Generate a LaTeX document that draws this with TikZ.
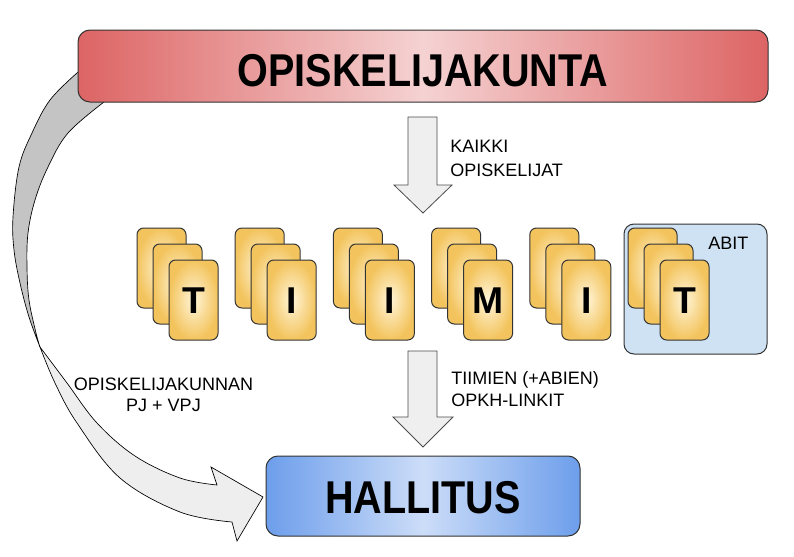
\documentclass[tikz,border=0pt]{standalone}
\usepackage{fontspec}
\setmainfont{Liberation Sans}
\usepackage{graphicx}
\definecolor{redEdge}{HTML}{DD6464}
\definecolor{redMid}{HTML}{F5D2D2}
\definecolor{blueEdge}{HTML}{6D9EEB}
\definecolor{blueMid}{HTML}{CCDDF8}
\definecolor{cardOut}{HTML}{F3C45E}
\definecolor{cardIn}{HTML}{FFF5D8}
\definecolor{abitFill}{HTML}{CFE2F3}
\definecolor{arrowFill}{HTML}{EFEFEF}
\definecolor{backBand}{HTML}{C4C4C4}
\definecolor{frontBand}{HTML}{EEEEEE}
\definecolor{lineDark}{HTML}{333333}
\begin{document}
\begin{tikzpicture}[x=0.75pt,y=-0.75pt,
  bigbox/.style={draw=lineDark, line width=0.75pt, rounded corners=9pt, inner sep=0pt},
  bigtext/.style={font=\fontsize{34.5}{40}\selectfont\bfseries},
  card/.style={draw=lineDark, line width=0.75pt, rounded corners=5pt,
    minimum width=36.75pt, minimum height=60pt, inner sep=0pt,
    inner color=cardIn, outer color=cardOut,
    font=\fontsize{28}{30}\selectfont\bfseries, text height=20pt, text depth=0pt},
  blockarrow/.style={draw=black!70, line width=0.6pt, fill=arrowFill},
  lbl/.style={font=\fontsize{13.5}{16}\selectfont, inner sep=0pt},
  band/.style={draw=black, line width=0.5pt}
]
\useasboundingbox (0,0) rectangle (794,557);
\fill[white] (0,0) rectangle (794,557);

% back part of the curved arrow (behind the title box)
\path[band, fill=backBand] (92,58)
  -- plot[smooth, tension=0.6] coordinates {(77,73) (50,100) (32,133) (19,167) (13,217) (14,250) (20,283) (29,317) (40,347)}
  -- plot[smooth, tension=0.6] coordinates {(40,347) (36,333) (29,300) (27,267) (28,233) (35,200) (48,167) (68,133) (104,102)}
  -- (122,87) -- cycle;

% title box
\node[bigbox, bigtext, minimum width=517.5pt, minimum height=54pt,
  left color=redEdge, right color=redEdge, middle color=redMid,
  text height=31pt, text depth=0pt] (title) at (423,66)
  {\scalebox{0.86}[1]{OPISKELIJAKUNTA}};

% first block arrow
\path[blockarrow] (408,117) -- (437,117) -- (437,185) -- (452,185) -- (423,213)
  -- (394,185) -- (408,185) -- cycle;
\node[lbl, anchor=base west] (kaikki) at (450,152) {KAIKKI};
\node[lbl, anchor=base west] (opisk) at (450,176) {OPISKELIJAT};

% ABIT box
\node[draw=lineDark, line width=0.75pt, fill=abitFill, rounded corners=7.5pt,
  minimum width=107.25pt, minimum height=97.5pt, inner sep=0pt] (abit) at (695.5,289) {};
\node[lbl, anchor=base west] (abitlbl) at (708,249) {ABIT};

% card stacks
\foreach \i/\L in {0/T,1/I,2/I,3/M,4/I,5/T}{
  \node[card] (c\i a) at ({137+98.2*\i+24.5},268) {};
  \node[card] (c\i b) at ({137+98.2*\i+40.5},284) {};
  \node[card] (c\i c) at ({137+98.2*\i+56.5},300) {\L};
}

% second block arrow
\path[blockarrow] (408,351) -- (437,351) -- (437,417) -- (453,417) -- (423,447)
  -- (393,417) -- (408,417) -- cycle;
\node[lbl, anchor=base west] (tiimien) at (451,384) {TIIMIEN (+ABIEN)};
\node[lbl, anchor=base west] (opkh) at (451,406) {OPKH-LINKIT};

% hallitus
\node[bigbox, bigtext, minimum width=235.5pt, minimum height=60pt,
  left color=blueEdge, right color=blueEdge, middle color=blueMid,
  text height=26pt, text depth=0pt] (hallitus) at (423,496)
  {\scalebox{0.86}[1]{HALLITUS}};

% front part of the curved arrow
\path[band, fill=frontBand]
  plot[smooth, tension=0.6] coordinates {(40,347) (67,383) (97,423) (135,456) (180,478) (217,485)}
  -- (211,467) -- (263,497) -- (237,541) -- (232,522)
  -- plot[smooth, tension=0.6] coordinates {(232,522) (180,512) (120,478) (77,423) (55,383) (40,347)}
  -- cycle;
\node[lbl, anchor=base] (pj1) at (163.5,390) {OPISKELIJAKUNNAN};
\node[lbl, anchor=base] (pj2) at (163.5,411) {PJ + VPJ};
\end{tikzpicture}
\end{document}
